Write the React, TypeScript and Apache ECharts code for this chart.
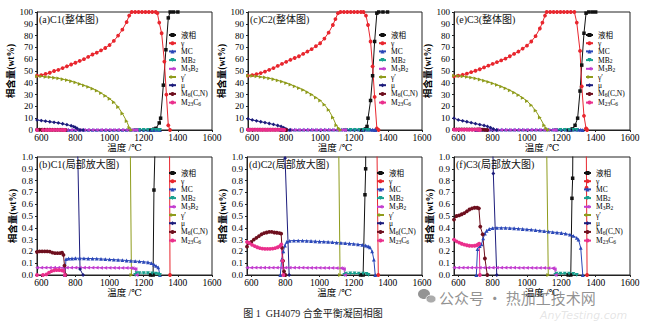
import React, { useEffect, useRef } from "react";
import * as echarts from "echarts";

const FONT = "'Liberation Serif','DejaVu Serif','Noto Sans CJK SC',serif";

const PHASES = ["液相", "γ", "MC", "MB₂", "M₃B₂", "γ′", "μ", "M₆(C,N)", "M₂₃C₆"];
const PHASE_RICH: Record<string, string> = {
  "MB₂": "MB{s|2}",
  "M₃B₂": "M{s|3}B{s|2}",
  "M₆(C,N)": "M{s|6}(C,N)",
  "M₂₃C₆": "M{s|23}C{s|6}",
};
const COLORS = ["#111111", "#e8262e", "#2a47b8", "#17a08e", "#c23ccf", "#8f9c1c", "#1c1c7c", "#6e0f1e", "#ea2f8c"];
const SYMBOLS = ["rect", "circle", "triangle", "triangle", "triangle", "triangle", "diamond", "circle", "circle"];
const ROTATE = [0, 0, 0, 180, 90, -90, 0, 0, 0];
const X_TICKS = [600, 800, 1000, 1200, 1400, 1600];
const TITLES = ["(a)C1(整体图)", "(c)C2(整体图)", "(e)C3(整体图)", "(b)C1(局部放大图)", "(d)C2(局部放大图)", "(f)C3(局部放大图)"];
const X_NAME = "温度 /℃";
const Y_NAME = "相含量(wt%)";
const CAPTION = "图 1  GH4079 合金平衡凝固相图";
const WATERMARK = "公众号 · 热加工技术网";

type P = [number, number][];

// ---------- C1 ----------
const C1_liquid: P = [[1240, 0], [1255, 0], [1260, 0.72], [1272, 1.4], [1291, 6], [1299, 10], [1315, 38], [1330, 68], [1344, 95], [1355, 100], [1375, 100], [1400, 100]];
const C1_gamma: P = [[575, 46], [600, 46.5], [625, 47.5], [650, 48.5], [675, 50], [700, 51], [725, 52.5], [750, 54], [775, 55.5], [800, 57], [825, 58.5], [850, 60], [875, 62], [900, 64], [925, 65.5], [950, 67.5], [975, 69.5], [1000, 72], [1025, 75.5], [1050, 80], [1075, 85], [1100, 91.5], [1115, 97], [1130, 100], [1150, 100], [1170, 100], [1190, 100], [1210, 100], [1230, 100], [1250, 100], [1270, 100], [1280, 99], [1291, 91], [1305, 82], [1321, 58], [1333, 30], [1344, 4], [1354, 0]];
const C1_MC: P = [[738, 0], [745, 0.135], [760, 0.14], [780, 0.14], [800, 0.142], [825, 0.142], [850, 0.141], [875, 0.14], [900, 0.139], [925, 0.138], [950, 0.136], [975, 0.134], [1000, 0.132], [1025, 0.13], [1050, 0.128], [1075, 0.126], [1100, 0.123], [1125, 0.12], [1150, 0.118], [1175, 0.115], [1200, 0.112], [1225, 0.108], [1245, 0.1], [1260, 0.088], [1272, 0.078], [1285, 0.065], [1295, 0]];
const C1_MB2: P = [[1150, 0], [1158, 0.015], [1175, 0.016], [1200, 0.016], [1225, 0.015], [1250, 0.014], [1270, 0.012], [1285, 0.008], [1295, 0]];
const C1_M3B2: P = [[575, 0.062], [600, 0.062], [625, 0.062], [650, 0.062], [675, 0.062], [700, 0.062], [725, 0.062], [750, 0.062], [775, 0.062], [800, 0.062], [825, 0.062], [850, 0.062], [875, 0.062], [900, 0.062], [925, 0.062], [950, 0.061], [975, 0.061], [1000, 0.061], [1025, 0.061], [1050, 0.06], [1075, 0.06], [1100, 0.06], [1125, 0.059], [1135, 0.058], [1145, 0.052], [1152, 0.05], [1158, 0]];
const C1_gammaP: P = [[575, 45.5], [600, 45.5], [625, 45], [650, 44.8], [675, 44.3], [700, 43.8], [725, 43], [750, 42.3], [775, 41.3], [800, 40.3], [825, 39], [850, 37.8], [875, 36.5], [900, 35], [925, 33.3], [950, 31.3], [975, 29], [1000, 26.5], [1025, 23.5], [1050, 19.5], [1075, 14], [1100, 7.5], [1116, 2], [1128, 0]];
const C1_mu: P = [[575, 8.5], [600, 8], [625, 7.5], [650, 7], [675, 6.5], [700, 6], [725, 5.3], [750, 4.5], [775, 3.6], [790, 2.8], [800, 2.2], [810, 1.3], [827, 0.05], [845, 0]];
const C1_M6CN: P = [[575, 0.195], [590, 0.2], [605, 0.2], [620, 0.2], [635, 0.2], [650, 0.198], [665, 0.19], [680, 0.185], [695, 0.185], [710, 0.185], [722, 0.19], [730, 0.17], [736, 0.08], [742, 0]];
const C1_M23C6: P = [[575, 0], [610, 0], [630, 0.005], [645, 0.02], [660, 0.033], [675, 0.04], [690, 0.042], [705, 0.042], [720, 0.04], [730, 0.035], [738, 0]];

// ---------- C2 ----------
const C2_liquid: P = [[1240, 0], [1255, 0], [1266, 0.68], [1270, 0.9], [1276, 3], [1282, 10], [1297, 25], [1309, 46], [1321, 75], [1334, 99], [1345, 100], [1370, 100], [1397, 100]];
const C2_gamma: P = [[575, 46], [600, 46.5], [625, 47.3], [650, 48.2], [675, 49.5], [700, 51], [725, 52.5], [750, 54.3], [775, 56], [800, 57.8], [825, 59.5], [850, 61], [875, 62.5], [900, 64.5], [925, 66.5], [950, 68.5], [975, 71], [1000, 73.5], [1025, 77.5], [1050, 82.5], [1075, 89], [1090, 94], [1105, 99], [1120, 100], [1140, 100], [1160, 100], [1180, 100], [1200, 100], [1220, 100], [1240, 100], [1255, 100], [1270, 97], [1282, 89], [1297, 75], [1309, 54], [1321, 28], [1334, 1.4], [1344, 0]];
const C2_MC: P = [[770, 0], [778, 0.13], [788, 0.2], [797, 0.25], [808, 0.28], [825, 0.29], [850, 0.292], [875, 0.292], [900, 0.291], [925, 0.29], [950, 0.288], [975, 0.286], [1000, 0.284], [1025, 0.282], [1050, 0.28], [1075, 0.278], [1100, 0.275], [1125, 0.272], [1150, 0.27], [1175, 0.267], [1200, 0.264], [1225, 0.26], [1250, 0.256], [1270, 0.25], [1285, 0.243], [1295, 0.235], [1308, 0.2], [1318, 0.13], [1326, 0]];
const C2_MB2: P = [[1145, 0], [1155, 0.012], [1180, 0.013], [1205, 0.013], [1230, 0.012], [1255, 0.011], [1275, 0.009], [1287, 0]];
const C2_M3B2: P = [[575, 0.062], [600, 0.062], [625, 0.062], [650, 0.062], [675, 0.062], [700, 0.062], [725, 0.062], [750, 0.062], [775, 0.062], [800, 0.062], [825, 0.062], [850, 0.062], [875, 0.062], [900, 0.062], [925, 0.061], [950, 0.061], [975, 0.061], [1000, 0.061], [1025, 0.06], [1050, 0.06], [1075, 0.06], [1100, 0.059], [1125, 0.058], [1135, 0.055], [1143, 0.05], [1148, 0]];
const C2_gammaP: P = [[575, 46], [600, 45.8], [625, 45.5], [650, 45], [675, 44.5], [700, 43.8], [725, 43], [750, 42], [775, 41], [800, 39.8], [825, 38.5], [850, 37], [875, 35.5], [900, 34], [925, 32], [950, 30], [975, 27.5], [1000, 25], [1025, 21.5], [1050, 17], [1075, 10.5], [1095, 4], [1110, 1.4], [1120, 0]];
const C2_mu: P = [[575, 9.5], [600, 8.5], [625, 7.8], [650, 7], [675, 6.3], [700, 5.5], [725, 4.7], [750, 3.8], [770, 3], [785, 2], [798, 0.99], [822, 0]];
const C2_M6CN: P = [[575, 0.24], [585, 0.27], [600, 0.28], [615, 0.3], [630, 0.315], [645, 0.33], [660, 0.345], [675, 0.355], [690, 0.36], [705, 0.365], [720, 0.365], [735, 0.36], [750, 0.358], [765, 0.355], [775, 0.35], [780, 0.23], [786, 0.12], [792, 0.03], [800, 0]];
const C2_M23C6: P = [[575, 0.28], [590, 0.27], [605, 0.255], [620, 0.245], [635, 0.235], [650, 0.228], [665, 0.224], [680, 0.222], [695, 0.222], [710, 0.222], [725, 0.224], [740, 0.228], [755, 0.235], [768, 0.245], [776, 0.26], [782, 0.12], [788, 0]];

// ---------- C3 ----------
const C3_liquid: P = [[1240, 0], [1255, 0], [1262, 0.65], [1266, 0.82], [1280, 4], [1295, 10], [1309, 33], [1319, 55], [1332, 82], [1344, 99], [1360, 100], [1380, 100], [1400, 100]];
const C3_gamma: P = [[575, 45.5], [600, 46], [625, 46.8], [650, 47.8], [675, 49], [700, 50.2], [725, 51.5], [750, 53], [775, 54.5], [800, 56], [825, 57.5], [850, 59], [875, 60.5], [900, 62.5], [925, 64.5], [950, 66.5], [975, 69], [1000, 71.5], [1025, 75], [1050, 79.5], [1075, 86], [1090, 91], [1105, 97], [1115, 100], [1135, 100], [1155, 100], [1175, 100], [1195, 100], [1215, 100], [1235, 100], [1255, 100], [1276, 100], [1290, 91], [1309, 67], [1319, 37], [1332, 12], [1344, 1.4], [1347, 0.74], [1350, 0]];
const C3_MC: P = [[705, 0], [712, 0.22], [725, 0.245], [735, 0.26], [745, 0.31], [755, 0.35], [765, 0.375], [780, 0.39], [800, 0.398], [825, 0.4], [850, 0.4], [875, 0.4], [900, 0.398], [925, 0.396], [950, 0.393], [975, 0.39], [1000, 0.387], [1025, 0.384], [1050, 0.38], [1075, 0.376], [1100, 0.372], [1125, 0.368], [1150, 0.364], [1175, 0.36], [1200, 0.356], [1225, 0.35], [1250, 0.342], [1270, 0.332], [1290, 0.315], [1300, 0.3], [1313, 0.23], [1325, 0]];
const C3_MB2: P = [[1165, 0], [1172, 0.012], [1195, 0.012], [1220, 0.012], [1245, 0.011], [1270, 0.01], [1290, 0]];
const C3_M3B2: P = [[575, 0.062], [600, 0.062], [625, 0.062], [650, 0.062], [675, 0.062], [700, 0.062], [725, 0.062], [750, 0.062], [775, 0.062], [800, 0.062], [825, 0.062], [850, 0.062], [875, 0.062], [900, 0.062], [925, 0.062], [950, 0.061], [975, 0.061], [1000, 0.061], [1025, 0.061], [1050, 0.06], [1075, 0.06], [1100, 0.06], [1125, 0.059], [1150, 0.057], [1155, 0.055], [1162, 0.048], [1167, 0]];
const C3_gammaP: P = [[575, 46], [600, 45.8], [625, 45.4], [650, 45], [675, 44.4], [700, 43.7], [725, 42.8], [750, 41.8], [775, 40.7], [800, 39.5], [825, 38.2], [850, 36.8], [875, 35.3], [900, 33.6], [925, 31.7], [950, 29.6], [975, 27.2], [1000, 24.5], [1025, 21], [1050, 16.5], [1075, 10.5], [1100, 4], [1112, 1.4], [1124, 0]];
const C3_mu: P = [[575, 10], [600, 8.5], [625, 7.8], [650, 7], [675, 6.2], [700, 5.4], [725, 4.6], [750, 3.8], [770, 3], [788, 2], [804, 0.86], [824, 0]];
const C3_M6CN: P = [[575, 0.47], [590, 0.5], [605, 0.505], [620, 0.515], [635, 0.525], [650, 0.54], [665, 0.555], [680, 0.565], [695, 0.57], [710, 0.57], [720, 0.565], [728, 0.41], [742, 0.345], [755, 0.14], [769, 0]];
const C3_M23C6: P = [[575, 0.3], [590, 0.285], [605, 0.275], [620, 0.265], [635, 0.258], [650, 0.252], [665, 0.248], [680, 0.247], [695, 0.248], [708, 0.252], [716, 0.26], [722, 0.265], [726, 0]];

const ALLOYS: P[][] = [
  [C1_liquid, C1_gamma, C1_MC, C1_MB2, C1_M3B2, C1_gammaP, C1_mu, C1_M6CN, C1_M23C6],
  [C2_liquid, C2_gamma, C2_MC, C2_MB2, C2_M3B2, C2_gammaP, C2_mu, C2_M6CN, C2_M23C6],
  [C3_liquid, C3_gamma, C3_MC, C3_MB2, C3_M3B2, C3_gammaP, C3_mu, C3_M6CN, C3_M23C6],
];

const GRIDS = [
  { left: 37, top: 12, width: 175, height: 118 },
  { left: 248, top: 12, width: 174, height: 118 },
  { left: 454, top: 12, width: 176, height: 118 },
  { left: 37, top: 157, width: 175, height: 118 },
  { left: 247, top: 157, width: 175, height: 118 },
  { left: 454, top: 157, width: 176, height: 118 },
];
const Y_NAME_GAP = [17, 20, 16, 17, 19, 16];
const LEGEND_POS = [
  { left: 168, top: 31 },
  { left: 378, top: 31 },
  { left: 585, top: 31 },
  { left: 168, top: 169 },
  { left: 376, top: 169 },
  { left: 583, top: 169 },
];

export default function App() {
  const ref = useRef<HTMLDivElement>(null);
  useEffect(() => {
    document.body.style.margin = "0";
    const chart = echarts.init(ref.current!, null, { renderer: "svg" });
    const axisLine = { show: true, lineStyle: { color: "#222", width: 1 } };
    const xAxis = GRIDS.map((_, i) => ({
      type: "value",
      gridIndex: i,
      min: 575,
      max: 1600,
      name: X_NAME,
      nameLocation: "middle",
      nameGap: 11,
      nameTextStyle: { fontFamily: FONT, fontSize: 9.5, color: "#000" },
      axisLine,
      axisTick: { show: true, length: 2, customValues: X_TICKS, lineStyle: { color: "#222" } },
      axisLabel: {
        customValues: X_TICKS,
        fontFamily: FONT,
        fontSize: 9.5,
        color: "#000",
        margin: 3,
        formatter: (v: number) => String(Math.round(v)),
      },
      splitLine: { show: false },
    }));
    const yAxis = GRIDS.map((_, i) => {
      const whole = i < 3;
      return {
        type: "value",
        gridIndex: i,
        min: 0,
        max: whole ? 100 : 1,
        interval: whole ? 10 : 0.1,
        name: Y_NAME,
        nameLocation: "middle",
        nameGap: Y_NAME_GAP[i],
        nameTextStyle: { fontFamily: FONT, fontSize: 9.5, color: "#000", fontWeight: "bold" },
        axisLine,
        axisTick: { show: true, length: 2, lineStyle: { color: "#222" } },
        axisLabel: {
          fontFamily: FONT,
          fontSize: 9,
          color: "#000",
          margin: 4,
          formatter: (v: number) => (whole ? String(Math.round(v)) : v.toFixed(1)),
        },
        splitLine: { show: false },
      };
    });
    const series: any[] = [];
    ALLOYS.forEach((phases, ai) => {
      [ai, ai + 3].forEach((gi) => {
        phases.forEach((data, pi) => {
          series.push({
            type: "line",
            name: PHASES[pi],
            xAxisIndex: gi,
            yAxisIndex: gi,
            data,
            symbol: SYMBOLS[pi],
            symbolRotate: ROTATE[pi],
            symbolSize: pi === 0 ? 3.5 : 3.8,
            showAllSymbol: true,
            clip: true,
            lineStyle: { width: 1, color: COLORS[pi] },
            itemStyle: { color: COLORS[pi] },
            emphasis: { disabled: true },
          });
        });
      });
    });
    const legend = LEGEND_POS.map((p) => ({
      orient: "vertical",
      left: p.left,
      top: p.top,
      padding: 0,
      itemWidth: 7,
      itemHeight: 5,
      itemGap: 0.2,
      selectedMode: false,
      data: PHASES,
      formatter: (name: string) => PHASE_RICH[name] ?? name,
      textStyle: {
        fontFamily: FONT,
        fontSize: 7.5,
        lineHeight: 8,
        color: "#000",
        rich: {
          s: { fontFamily: FONT, fontSize: 5.5, lineHeight: 8, verticalAlign: "bottom", color: "#000", padding: [3, 0, 0, 0] },
        },
      },
    }));
    const graphic: any[] = TITLES.map((t, i) => ({
      type: "text",
      x: GRIDS[i].left + 2,
      y: GRIDS[i].top + 2,
      style: { text: t, fontFamily: FONT, fontSize: 10, fill: "#111", align: "left", verticalAlign: "top" },
      z: 10,
    }));
    graphic.push({
      type: "text",
      x: 313,
      y: 313,
      style: { text: CAPTION, fontFamily: FONT, fontSize: 10, fill: "#222", align: "center", verticalAlign: "middle" },
    });
    graphic.push({
      type: "ellipse",
      shape: { cx: 424, cy: 294, rx: 6, ry: 5 },
      style: { fill: "rgba(120,120,120,0.8)" },
    });
    graphic.push({
      type: "ellipse",
      shape: { cx: 431, cy: 299, rx: 5, ry: 4 },
      style: { fill: "rgba(150,150,150,0.8)", stroke: "#fff", lineWidth: 0.8 },
    });
    graphic.push({
      type: "text",
      x: 439,
      y: 297,
      style: { text: WATERMARK, fontFamily: "'Noto Sans CJK SC',sans-serif", fontSize: 15, fill: "rgba(110,110,110,0.75)", align: "left", verticalAlign: "middle" },
      z: 20,
    });
    graphic.push({
      type: "text",
      x: 540,
      y: 315,
      style: { text: "AnyTesting.com", fontFamily: "'DejaVu Sans',sans-serif", fontSize: 11, fontStyle: "italic", fill: "rgba(180,180,180,0.35)", align: "left", verticalAlign: "middle" },
    });
    chart.setOption({
      animation: false,
      backgroundColor: "#fff",
      grid: GRIDS.map((g) => ({ ...g, show: true, borderColor: "#222", borderWidth: 1, backgroundColor: "transparent" })),
      xAxis,
      yAxis,
      legend,
      series,
      graphic,
    });
    return () => chart.dispose();
  }, []);
  return <div ref={ref} style={{ position: "absolute", left: 0, top: 0, width: 650, height: 322 }} />;
}
